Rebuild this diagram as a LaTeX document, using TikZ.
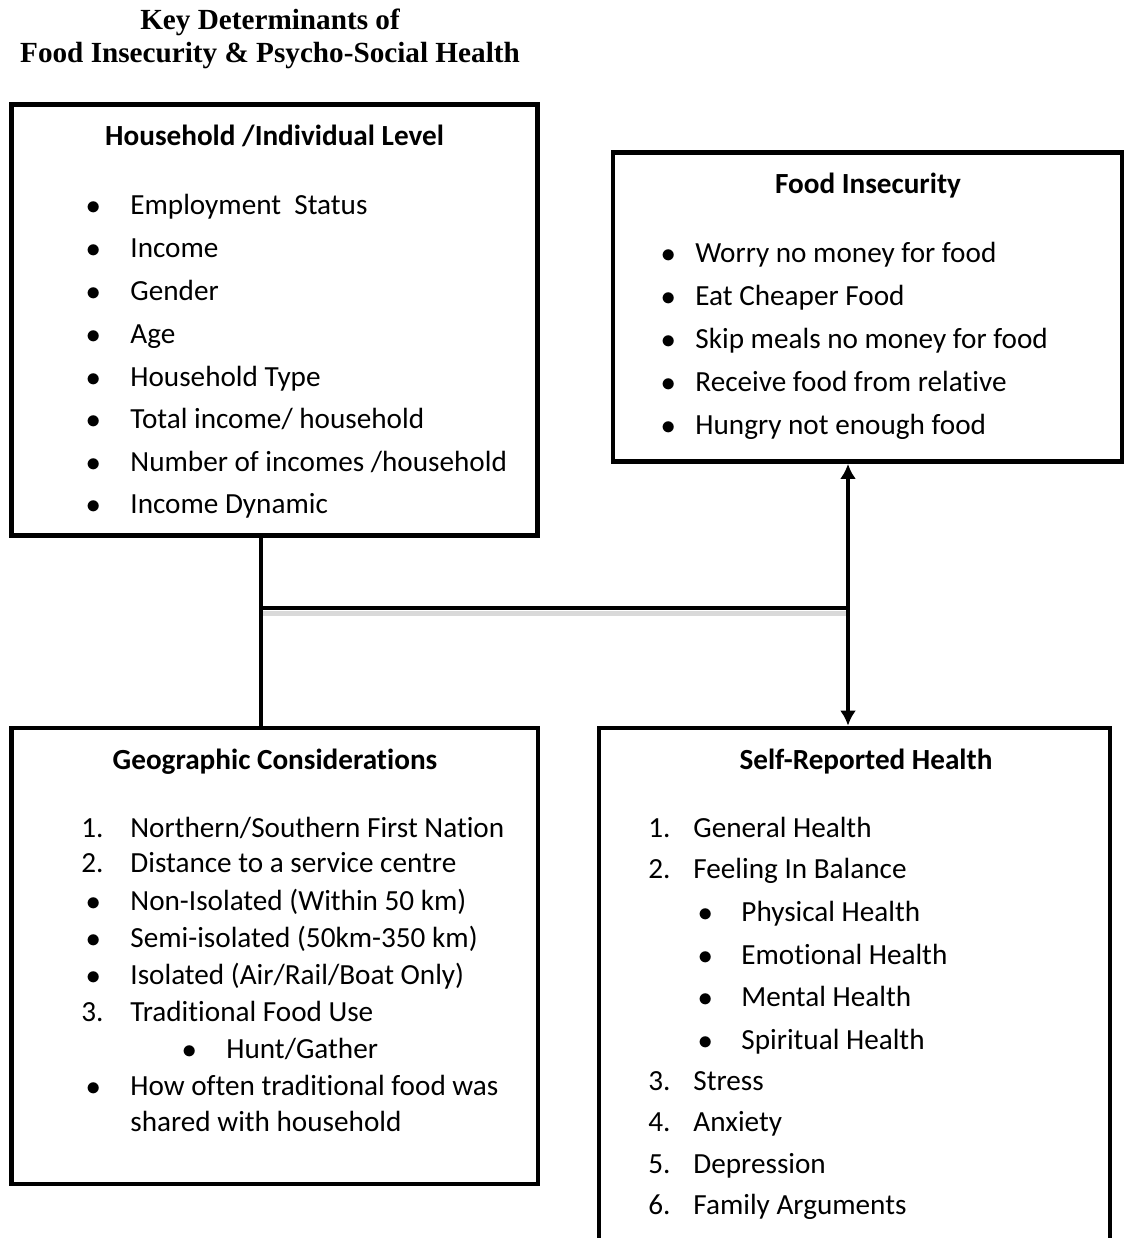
\documentclass[tikz,border=0pt]{standalone}
\usepackage{fontspec}
\setmainfont{Carlito}[Ligatures=NoCommon]
\newfontfamily\titlefont{Liberation Serif}
\usetikzlibrary{arrows.meta,fit,calc}

\tikzset{
  box/.style={draw, line width=2.4pt, inner sep=0pt},
  item/.style={anchor=west, inner sep=0pt, text height=13pt, text depth=3pt, font=\fontsize{14.6}{17}\selectfont},
  head/.style={item, anchor=center, font=\fontsize{14.6}{17}\selectfont\bfseries},
  toptitle/.style={inner sep=0pt, font=\fontsize{14.6}{17}\selectfont\titlefont\bfseries},
  link/.style={line width=2.4pt},
  arrow/.style={link, -{Latex[length=7.5pt,width=8pt]}}
}
\newcommand{\blt}[1]{\makebox[#1][l]{$\bullet$}}
\newcommand{\num}[2]{\makebox[#1][l]{#2}}

\begin{document}
\begin{tikzpicture}[x=0.5pt,y=-0.5pt]
\clip (0,0) rectangle (1124,1238);

\node [toptitle] (title1) at (270,22.5) {Key Determinants of};
\node [toptitle] (title2) at (270,55.5) {Food Insecurity \& Psycho-Social Health};

% boxes
\node [box, fit={(11.5,104.5) (537.5,535.5)}] (house) {};
\node [box, fit={(613,152.5) (1122,461.5)}] (food) {};
\node [box, fit={(11.5,728) (538,1184)}] (geo) {};
\node [box, fit={(599,728) (1110,1300)}] (health) {};

% household / individual
\node [head] (househead) at (274.5,135) {Household /Individual Level};
\node [item] (hh1) at (86,204) {\blt{22pt}Employment\ \ Status};
\node [item] (hh2) at (86,247) {\blt{22pt}Income};
\node [item] (hh3) at (86,290) {\blt{22pt}Gender};
\node [item] (hh4) at (86,333) {\blt{22pt}Age};
\node [item] (hh5) at (86,376) {\blt{22pt}Household Type};
\node [item] (hh6) at (86,418) {\blt{22pt}Total income/ household};
\node [item] (hh7) at (86,461) {\blt{22pt}Number of incomes /household};
\node [item] (hh8) at (86,503) {\blt{22pt}Income Dynamic};

% food insecurity
\node [head] (foodhead) at (868,183) {Food Insecurity};
\node [item] (fi1) at (661,252) {\blt{17pt}Worry no money for food};
\node [item] (fi2) at (661,295) {\blt{17pt}Eat Cheaper Food};
\node [item] (fi3) at (661,338) {\blt{17pt}Skip meals no money for food};
\node [item] (fi4) at (661,381) {\blt{17pt}Receive food from relative};
\node [item] (fi5) at (661,424) {\blt{17pt}Hungry not enough food};

% geographic
\node [head] (geohead) at (275,759) {Geographic Considerations};
\node [item] (gc1) at (81,827) {\num{24.5pt}{1.}Northern/Southern First Nation};
\node [item] (gc2) at (81,862) {\num{24.5pt}{2.}Distance to a service centre};
\node [item] (gc3) at (86,900) {\blt{22pt}Non-Isolated (Within 50 km)};
\node [item] (gc4) at (86,937) {\blt{22pt}Semi-isolated (50km-350 km)};
\node [item] (gc5) at (86,974) {\blt{22pt}Isolated (Air/Rail/Boat Only)};
\node [item] (gc6) at (81,1011) {\num{24.5pt}{3.}Traditional Food Use};
\node [item] (gc7) at (182,1048) {\blt{22pt}Hunt/Gather};
\node [item] (gc8) at (86,1085) {\blt{22pt}How often traditional food was};
\node [item] (gc9) at (130,1121) {shared with household};

% self-reported health
\node [head] (healthhead) at (866,759) {Self-Reported Health};
\node [item] (sr1) at (648,827) {\num{22.5pt}{1.}General Health};
\node [item] (sr2) at (648,868) {\num{22.5pt}{2.}Feeling In Balance};
\node [item] (sr3) at (698,911) {\blt{21.5pt}Physical Health};
\node [item] (sr4) at (698,954) {\blt{21.5pt}Emotional Health};
\node [item] (sr5) at (698,996) {\blt{21.5pt}Mental Health};
\node [item] (sr6) at (698,1039) {\blt{21.5pt}Spiritual Health};
\node [item] (sr7) at (648,1080) {\num{22.5pt}{3.}Stress};
\node [item] (sr8) at (648,1121) {\num{22.5pt}{4.}Anxiety};
\node [item] (sr9) at (648,1163) {\num{22.5pt}{5.}Depression};
\node [item] (sr10) at (648,1204) {\num{22.5pt}{6.}Family Arguments};

% connectors
\coordinate (split) at (261,608);
\coordinate (hub) at (848,608);
\draw [gray!30, line width=2.5pt] ($(split)+(0,5.5)$) -- ($(hub)+(0,5.5)$);
\draw [link] (house.south -| split) -- (geo.north -| split);
\draw [link] (split) -- (hub);
\draw [arrow] (hub) -- (hub |- food.south);
\draw [arrow] (hub) -- (hub |- health.north);

\end{tikzpicture}
\end{document}
